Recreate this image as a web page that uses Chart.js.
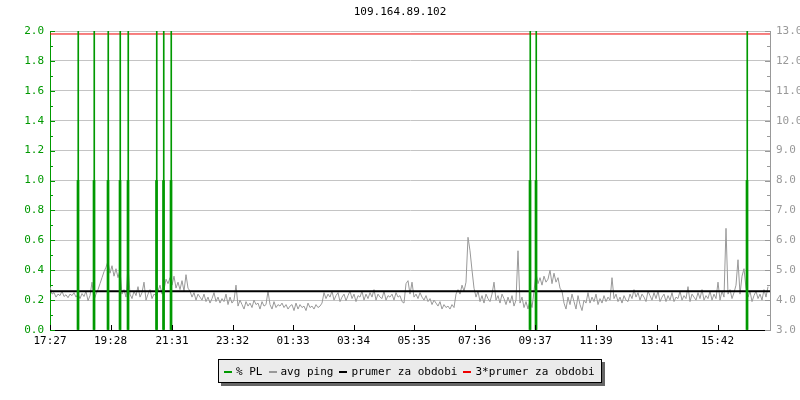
<!DOCTYPE html>
<html>
<head>
<meta charset="utf-8">
<script src="https://cdn.jsdelivr.net/npm/chart.js@4/dist/chart.umd.min.js"></script>
<style>
  html, body { margin: 0; padding: 0; background: #fff; }
  #wrap { position: relative; width: 800px; height: 400px; font-family: "DejaVu Sans Mono", monospace; }
  #title { position: absolute; top: 5px; left: 0; width: 800px; text-align: center; font-size: 11px; color: #000; }
  #legend { position: absolute; left: 218px; top: 359px; height: 24px; padding: 0 6px 0 5px; box-sizing: border-box;
    background: #ebebeb; border: 1px solid #000; box-shadow: 3px 3px 0 #666; display: flex; align-items: center;
    font-size: 11px; color: #000; white-space: pre; }
  #legend span.sw { display: inline-block; width: 8px; height: 2px; margin: 0 4px 0 0; vertical-align: middle; }
  #legend span.it { margin-right: 6px; }
  #legend span.it:last-child { margin-right: 0; }
</style>
</head>
<body>
<div id="wrap">
  <canvas id="c" width="800" height="400"></canvas>
  <div id="title"></div>
  <div id="legend"></div>
</div>
<script>
const $ = id => document.getElementById(id);

const title = '109.164.89.102';
const seriesNames = ['% PL', 'avg ping', 'prumer za obdobi', '3*prumer za obdobi'];
const seriesColors = ['#009900', '#999999', '#000000', '#ee0000'];

// x axis: minutes since 17:27, one day
const xTickMinutes = [0, 121, 244, 365, 486, 607, 728, 849, 970, 1092, 1214, 1335];
const xTickLabels = ['17:27', '19:28', '21:31', '23:32', '01:33', '03:34', '05:35', '07:36', '09:37', '11:39', '13:41', '15:42'];
const xSpan = 1440;

// packet loss events (minute, % PL)
const plMinutes = [56, 88, 116, 140, 156, 213, 227, 242, 960, 972, 1394];
const plLoss    = [1, 1, 1, 1, 1, 1, 1, 1, 1, 1, 1];
const plPeak    = [2, 2, 2, 2, 2, 2, 2, 2, 2, 2, 2];

// avg ping (ms), one sample every 4 minutes
const pingStep = 4;
const pingValues = [
  4.45, 4.2, 4.25, 4.1, 4.2, 4.15, 4.3, 4.12, 4.18, 4.08, 4.2, 4.15, 4.25, 4.1, 4.2, 4.05, 4.22, 4.12, 4.3, 3.98, 4.15, 4.6, 4.0, 4.2, 4.35, 4.55, 4.75, 4.95, 5.1, 5.3,
  4.9, 5.15, 4.8, 5.05, 4.75, 5.0, 4.2, 4.35, 4.1, 5.15, 4.2, 4.05, 4.3, 4.15, 4.45, 4.1, 4.25, 4.6, 4.0, 4.2, 4.35, 4.05, 4.2, 4.15, 4.3, 4.5, 4.2, 4.35, 4.7, 4.55,
  4.75, 4.5, 4.8, 4.4, 4.6, 4.35, 4.65, 4.3, 4.85, 4.4, 4.3, 4.1, 4.25, 4.0, 4.2, 4.1, 4.0, 4.2, 3.95, 4.1, 3.9, 4.05, 4.25, 3.95, 4.1, 3.9, 4.05, 3.95, 4.2, 3.85,
  4.1, 3.9, 4.0, 4.5, 3.8, 4.0, 3.85, 3.7, 3.95, 3.8, 3.9, 3.75, 4.0, 3.85, 3.9, 3.7, 3.95, 3.8, 3.85, 4.3, 3.85, 3.7, 3.95, 3.75, 3.85, 3.8, 3.9, 3.75, 3.85, 3.7,
  3.8, 3.85, 3.65, 3.9, 3.7, 3.85, 3.75, 3.8, 3.65, 3.9, 3.75, 3.8, 3.7, 3.85, 3.75, 3.8, 3.9, 4.25, 4.05, 4.2, 4.1, 4.3, 4.0, 4.15, 4.25, 3.95, 4.1, 4.2, 3.98, 4.15,
  4.3, 4.05, 4.2, 3.95, 4.15, 4.1, 4.3, 4.0, 4.2, 4.05, 4.25, 4.1, 4.35, 4.0, 4.2, 4.1, 4.05, 4.3, 4.0, 4.15, 4.1, 4.2, 4.0, 4.25, 4.1, 4.15, 3.95, 3.9, 4.55, 4.65,
  4.2, 4.6, 4.1, 4.2, 4.05, 4.25, 4.1, 4.0, 4.15, 3.95, 4.05, 3.85, 4.0, 3.9, 3.8, 3.95, 3.7, 3.85, 3.75, 3.8, 3.7, 3.85, 3.75, 4.2, 4.35, 4.2, 4.5, 4.3, 4.6, 6.1,
  5.65, 5.0, 4.4, 4.1, 4.3, 3.95, 4.15, 3.9, 4.2, 4.05, 3.95, 4.2, 4.6, 4.0, 4.15, 3.9, 4.2, 4.05, 3.85, 4.1, 3.9, 4.15, 3.8, 4.0, 5.65, 3.9, 4.1, 3.75, 3.95, 3.7,
  4.0, 3.75, 4.3, 4.9, 4.55, 4.75, 4.5, 4.8, 4.6, 4.7, 5.0, 4.55, 4.9, 4.6, 4.75, 4.4, 4.3, 3.9, 3.7, 4.1, 3.85, 4.2, 3.95, 3.7, 4.15, 3.85, 3.65, 4.0, 3.9, 4.25,
  3.9, 4.1, 3.95, 4.2, 3.85, 4.05, 3.9, 4.15, 3.95, 4.1, 4.0, 4.75, 4.05, 4.2, 3.95, 4.1, 3.9, 4.15, 4.0, 3.95, 4.2, 4.05, 4.35, 4.1, 4.25, 4.0, 4.2, 4.1, 3.95, 4.3,
  4.15, 4.0, 4.25, 4.05, 4.3, 3.95, 4.1, 4.2, 3.95, 4.15, 4.0, 4.25, 3.95, 4.1, 4.05, 4.3, 4.0, 4.15, 4.05, 4.45, 3.95, 4.2, 4.1, 4.0, 4.25, 4.05, 4.35, 4.0, 4.15, 4.05,
  4.3, 4.0, 4.2, 4.05, 4.6, 4.0, 4.3, 4.1, 6.4, 4.2, 4.35, 4.05, 4.25, 4.5, 5.35, 4.2, 4.8, 5.05, 4.4, 4.1, 4.3, 3.95, 4.15, 4.3, 4.05, 4.2, 4.0, 4.35, 4.1, 4.45
];
const avgPing = 4.3;

const FONT = { family: '"DejaVu Sans Mono", monospace', size: 11 };
const GRID = '#c4c4c4';

$('title').textContent = title;
$('legend').innerHTML = seriesNames.map((n, i) =>
  `<span class="it"><span class="sw" style="background:${seriesColors[i]}"></span>${n}</span>`).join('');

// small inward tick marks like the original graph
const tickMarks = {
  id: 'tickMarks',
  afterDraw(chart) {
    const { ctx, chartArea: a, scales: { x, y, y2 } } = chart;
    ctx.save();
    ctx.lineWidth = 1;
    ctx.strokeStyle = seriesColors[0];
    for (let k = 0; k <= 20; k++) {
      const py = Math.round(y.getPixelForValue(k / 10)) + 0.5;
      ctx.beginPath(); ctx.moveTo(a.left, py); ctx.lineTo(a.left + (k % 2 ? 3 : 5), py); ctx.stroke();
    }
    ctx.strokeStyle = '#999';
    for (let k = 0; k <= 20; k++) {
      const py = Math.round(y2.getPixelForValue(3 + k / 2)) + 0.5;
      ctx.beginPath(); ctx.moveTo(a.right, py); ctx.lineTo(a.right - (k % 2 ? 3 : 5), py); ctx.stroke();
    }
    ctx.strokeStyle = '#000';
    xTickMinutes.forEach(m => {
      const px = Math.round(x.getPixelForValue(m)) + 0.5;
      ctx.beginPath(); ctx.moveTo(px, a.bottom); ctx.lineTo(px, a.bottom - 5); ctx.stroke();
    });
    ctx.restore();
  }
};

new Chart($('c'), {
  type: 'line',
  data: {
    datasets: [
      { label: seriesNames[0], type: 'bar', data: plMinutes.map((m, i) => ({ x: m, y: plLoss[i] })),
        yAxisID: 'y', backgroundColor: seriesColors[0], barThickness: 2, grouped: false, order: 0 },
      { label: 'pl-peak', type: 'bar', data: plMinutes.map((m, i) => ({ x: m + 0.5, y: plPeak[i] })),
        yAxisID: 'y', backgroundColor: seriesColors[0], barThickness: 1, grouped: false, order: 0 },
      { label: seriesNames[1], data: pingValues.map((v, i) => ({ x: i * pingStep, y: v })),
        yAxisID: 'y2', borderColor: seriesColors[1], borderWidth: 1, pointRadius: 0, tension: 0, order: 3 },
      { label: seriesNames[2], data: [{ x: 0, y: avgPing }, { x: xSpan, y: avgPing }],
        yAxisID: 'y2', borderColor: seriesColors[2], borderWidth: 2, pointRadius: 0, order: 1 },
      { label: seriesNames[3], data: [{ x: 0, y: 3 * avgPing }, { x: xSpan, y: 3 * avgPing }],
        yAxisID: 'y2', borderColor: seriesColors[3], borderWidth: 1, pointRadius: 0, order: 1 },
    ]
  },
  options: {
    responsive: false,
    animation: false,
    layout: { padding: { top: 31, left: 0, right: 0, bottom: 0 } },
    plugins: { legend: { display: false }, title: { display: false }, tooltip: { enabled: false } },
    scales: {
      x: {
        type: 'linear', min: 0, max: xSpan, offset: false,
        afterBuildTicks: s => { s.ticks = xTickMinutes.map(v => ({ value: v })); },
        afterFit: s => { s.height = 70; },
        grid: { display: false, drawTicks: false, offset: false },
        border: { color: '#000', width: 1 },
        ticks: { font: FONT, color: '#000', padding: 5, maxRotation: 0, autoSkip: false,
          callback: v => xTickLabels[xTickMinutes.indexOf(v)] }
      },
      y: {
        position: 'left', min: 0, max: 2,
        afterFit: s => { s.width = 50; },
        grid: { color: GRID, drawTicks: false },
        border: { color: seriesColors[0], width: 1 },
        ticks: { stepSize: 0.2, font: FONT, color: seriesColors[0], padding: 6, callback: v => v.toFixed(1) }
      },
      y2: {
        position: 'right', min: 3, max: 13,
        afterFit: s => { s.width = 30; },
        grid: { display: false, drawTicks: false },
        border: { color: '#999', width: 1 },
        ticks: { stepSize: 1, font: FONT, color: '#999', padding: 6, callback: v => v.toFixed(1) }
      }
    }
  },
  plugins: [tickMarks]
});
</script>
</body>
</html>
